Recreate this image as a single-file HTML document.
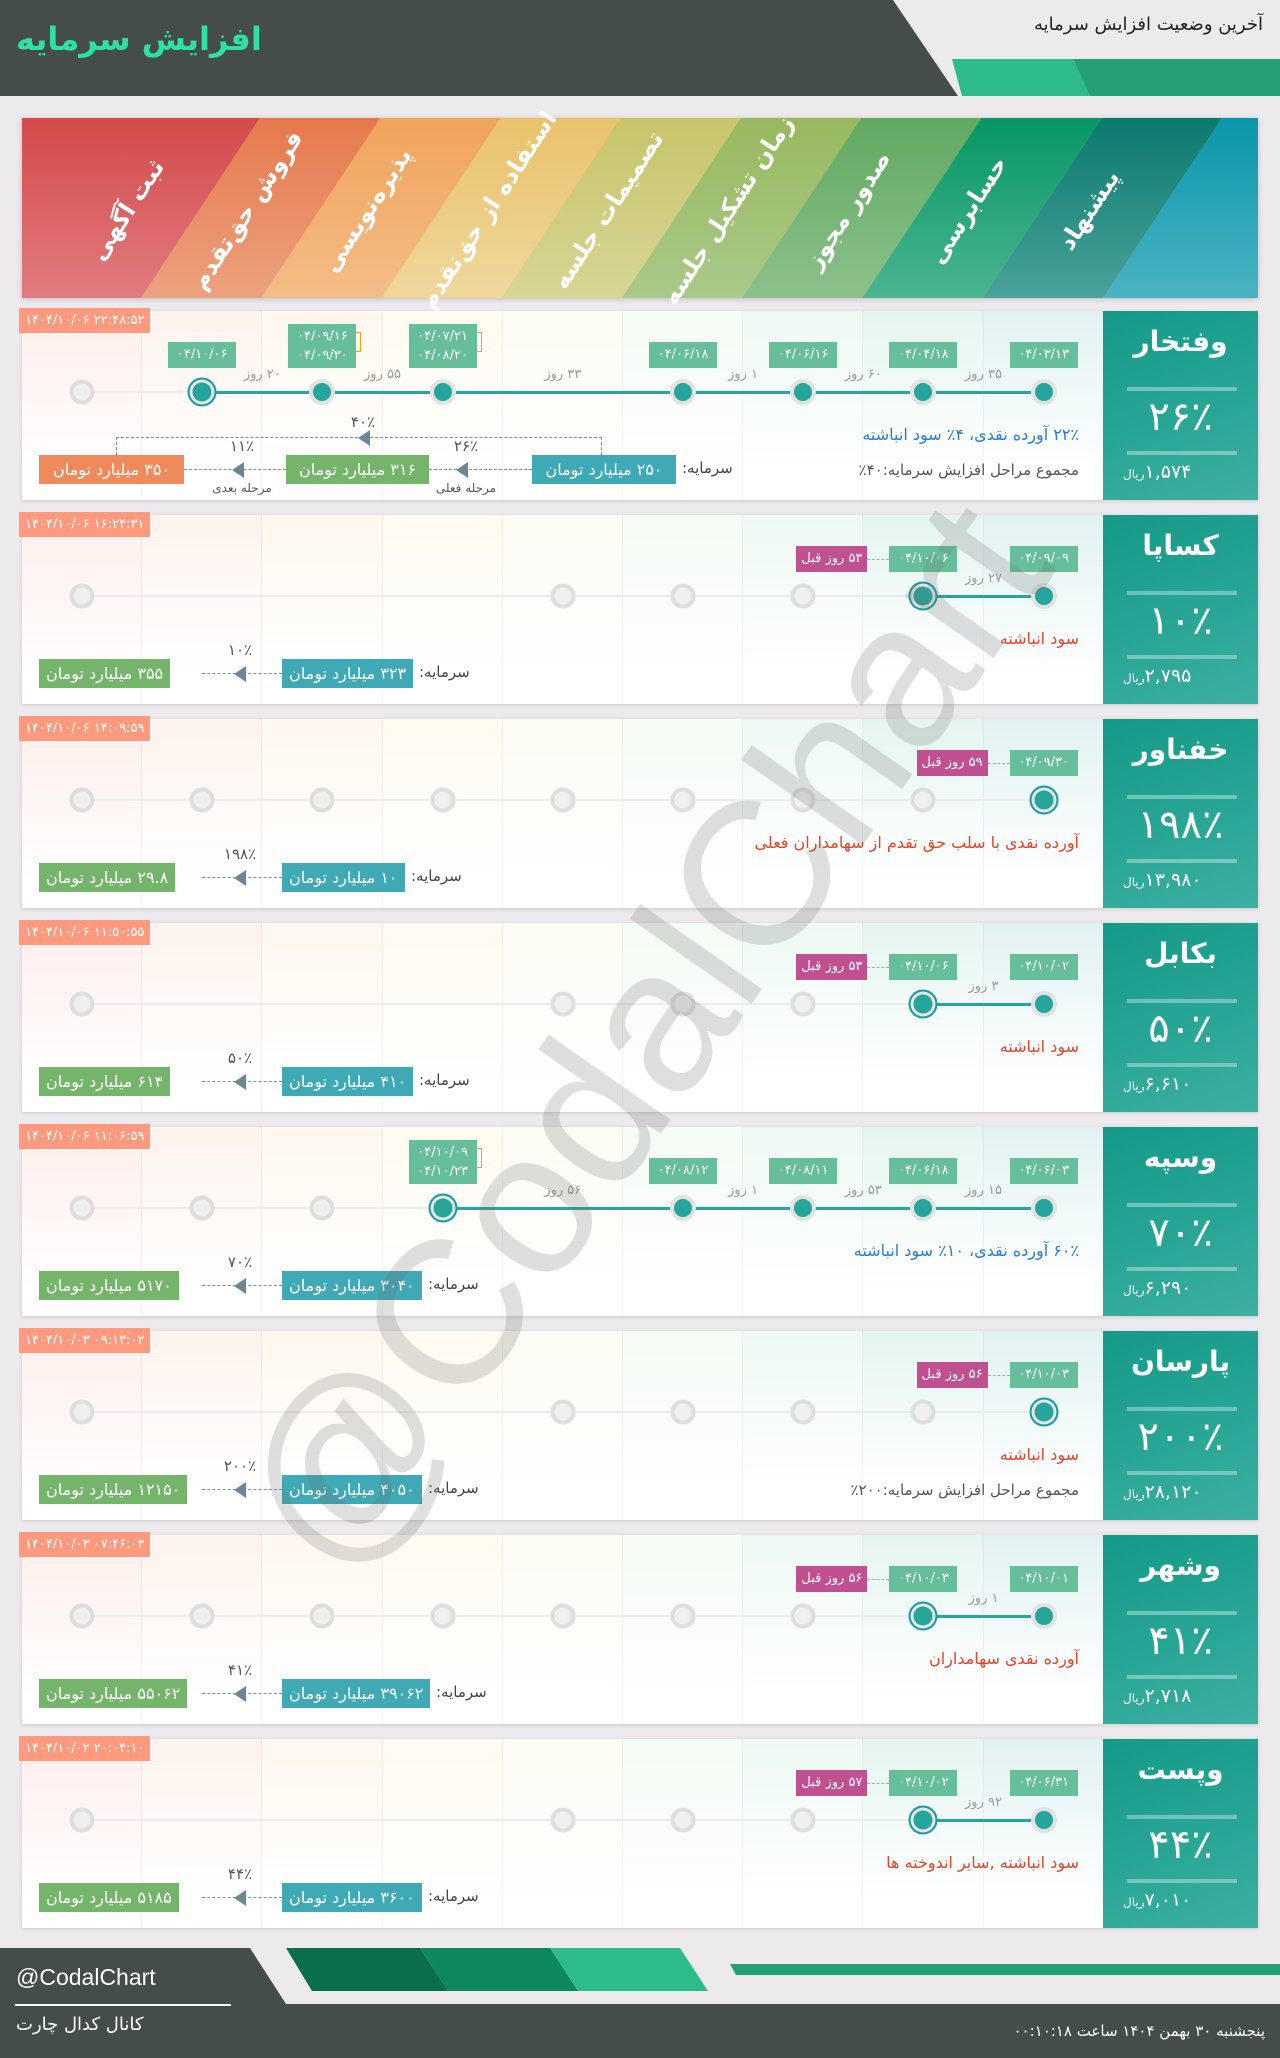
<!DOCTYPE html>
<html lang="fa">
<head>
<meta charset="utf-8">
<style>
*{margin:0;padding:0;box-sizing:border-box}
body{width:1280px;height:2058px;background:#edeaee;position:relative;overflow:hidden;font-family:"DejaVu Sans","Liberation Sans",sans-serif}
.abs{position:absolute}
.fa{direction:rtl;unicode-bidi:plaintext;white-space:nowrap}
.row{position:absolute;left:22px;width:1236px;height:189px;box-shadow:0 1px 4px rgba(0,0,0,.15);overflow:visible}
.main{position:absolute;left:0;top:0;width:1081px;height:189px;background:#fff;overflow:hidden}
.panel{position:absolute;left:1081px;top:0;width:155px;height:189px;background:linear-gradient(160deg,#159a88 0%,#2aa796 60%,#3cae9f 100%);color:#fff;text-align:center}
.sep{position:absolute;left:24px;width:110px;height:4px;background:rgba(255,255,255,.35)}
.ts{position:absolute;left:-3px;top:-3px;height:25px;background:#ff9a7e;color:#fff;font-size:13px;line-height:25px;padding:0 6px}
.box{position:absolute;height:29px;line-height:29px;color:#fff;font-size:16px;padding:0 7px;white-space:nowrap;direction:rtl;text-align:center}
.dt{position:absolute;background:#66bf9a;color:#fff;font-size:13px;text-align:center;width:68px;transform:translateX(-50%)}
.mg{position:absolute;background:#c0508f;color:#fff;font-size:13px;height:26px;line-height:26px;padding:0 5px;white-space:nowrap;direction:rtl}
.day{position:absolute;font-size:13px;color:#9a9a9a;transform:translateX(-50%);white-space:nowrap;direction:rtl}
.node{position:absolute;border-radius:50%;transform:translate(-50%,-50%)}
</style>
</head>
<body>
<svg class="abs" style="left:0;top:0" width="1280" height="98">
  <polygon points="0,0 893,0 958,96 0,96" fill="#454d4a"/>
  <polygon points="952,59 1073,59 1090,96 962,96" fill="#2dbb8a"/>
  <polygon points="1073,59 1280,59 1280,96 1090,96" fill="#23a075"/>
</svg>
<div class="abs fa" style="left:16px;top:20px;font-size:32px;font-weight:bold;color:#2ee0a3">افزایش سرمایه</div>
<div class="abs fa" style="right:17px;top:14px;font-size:18px;color:#222">آخرین وضعیت افزایش سرمایه</div>

<svg id="banner" class="abs" style="left:0;top:0;filter:drop-shadow(0 1px 3px rgba(0,0,0,.2))" width="1280" height="310"></svg>
<div id="bannerLabels"></div>

<div id="rows"></div>

<div class="abs" style="left:643px;top:1037px;transform:translate(-50%,-50%) rotate(-55deg);font-family:'Liberation Sans',sans-serif;font-size:205px;color:rgba(110,110,110,.22);white-space:nowrap;pointer-events:none">@CodalChart</div>

<svg class="abs" style="left:0;top:1940px" width="1280" height="118">
  <polygon points="0,8 250,8 286,64 1280,64 1280,118 0,118" fill="#454d4a"/>
  <polygon points="286,8 420,8 448,51 312,51" fill="#0a6e4e"/>
  <polygon points="420,8 550,8 578,51 448,51" fill="#0d885e"/>
  <polygon points="550,8 680,8 708,51 578,51" fill="#2dbb8a"/>
  <polygon points="730,24 1280,24 1280,35 736,35" fill="#24a077"/>
</svg>
<div class="abs" style="left:16px;top:1964px;font-family:'Liberation Sans',sans-serif;font-size:23px;color:#fff">@CodalChart</div>
<div class="abs" style="left:15px;top:2004px;width:216px;height:2px;background:#fff"></div>
<div class="abs fa" style="left:16px;top:2014px;font-size:18px;color:#fff">کانال کدال چارت</div>
<div class="abs fa" style="right:15px;top:2022px;font-size:15px;color:#fff">پنجشنبه ۳۰ بهمن ۱۴۰۴ ساعت ۰۰:۱۰:۱۸</div>

<script>
const stageLabels = ["ثبت آگهی","فروش حق‌تقدم","پذیره‌نویسی","استفاده از حق‌تقدم","تصمیمات جلسه","زمان تشکیل جلسه","صدور مجوز","حسابرسی","پیشنهاد"];
const bandTop = ["#d44a4a","#e6784c","#f0a35b","#e9c26c","#c8c46a","#98b95e","#61a861","#079765","#0b7a6d","#0a97aa"];
const bandBot = ["#e07b7f","#eca27f","#f4bd87","#efd79b","#d7d695","#aac98a","#8cc18b","#4ab590","#4aa29a","#4ab3c3"];

const names = ["وفتخار","کساپا","خفناور","بکابل","وسپه","پارسان","وشهر","وپست"];
const pcts = ["۲۶٪","۱۰٪","۱۹۸٪","۵۰٪","۷۰٪","۲۰۰٪","۴۱٪","۴۴٪"];
const prices = ["۱,۵۷۴","۲,۷۹۵","۱۳,۹۸۰","۶,۶۱۰","۶,۲۹۰","۲۸,۱۲۰","۲,۷۱۸","۷,۰۱۰"];
const stamps = ["۱۴۰۴/۱۰/۰۶ ۲۲:۴۸:۵۲","۱۴۰۴/۱۰/۰۶ ۱۶:۲۴:۳۱","۱۴۰۴/۱۰/۰۶ ۱۴:۰۹:۵۹","۱۴۰۴/۱۰/۰۶ ۱۱:۵۰:۵۵","۱۴۰۴/۱۰/۰۶ ۱۱:۰۶:۵۹","۱۴۰۴/۱۰/۰۳ ۰۹:۱۳:۰۲","۱۴۰۴/۱۰/۰۳ ۰۷:۴۶:۰۳","۱۴۰۴/۱۰/۰۲ ۲۰:۰۴:۱۰"];
const descs = ["۲۲٪ آورده نقدی، ۴٪ سود انباشته","سود انباشته","آورده نقدی با سلب حق تقدم از سهامداران فعلی","سود انباشته","۶۰٪ آورده نقدی، ۱۰٪ سود انباشته","سود انباشته","آورده نقدی سهامداران","سود انباشته ,سایر اندوخته ها"];
const descBlue = [true,false,false,false,true,false,false,false];
const sums = ["مجموع مراحل افزایش سرمایه:۴۰٪","","","","","مجموع مراحل افزایش سرمایه:۲۰۰٪","",""];
const capFrom = ["۲۵۰","۳۲۳","۱۰","۴۱۰","۳۰۴۰","۴۰۵۰","۳۹۰۶۲","۳۶۰۰"];
const capTo = ["۳۱۶","۳۵۵","۲۹.۸","۶۱۴","۵۱۷۰","۱۲۱۵۰","۵۵۰۶۲","۵۱۸۵"];
const capPct = ["۲۶٪","۱۰٪","۱۹۸٪","۵۰٪","۷۰٪","۲۰۰٪","۴۱٪","۴۴٪"];
const nodeStates = [
 [1,3,2,2,0,2,2,2,2],
 [1,0,0,0,1,1,1,3,2],
 [1,1,1,1,1,1,1,1,3],
 [1,0,0,0,1,1,1,3,2],
 [1,1,1,3,0,2,2,2,2],
 [1,0,0,0,1,1,1,1,3],
 [1,1,1,1,1,1,1,3,2],
 [1,0,0,0,1,1,1,3,2]
];
const nodeDates = [
 [null,"۰۴/۱۰/۰۶",["۰۴/۰۹/۱۶","۰۴/۰۹/۳۰"],["۰۴/۰۷/۲۱","۰۴/۰۸/۲۰"],null,"۰۴/۰۶/۱۸","۰۴/۰۶/۱۶","۰۴/۰۴/۱۸","۰۴/۰۳/۱۳"],
 [null,null,null,null,null,null,null,"۰۴/۱۰/۰۶","۰۴/۰۹/۰۹"],
 [null,null,null,null,null,null,null,null,"۰۴/۰۹/۳۰"],
 [null,null,null,null,null,null,null,"۰۴/۱۰/۰۶","۰۴/۱۰/۰۲"],
 [null,null,null,["۰۴/۱۰/۰۹","۰۴/۱۰/۲۳"],null,"۰۴/۰۸/۱۲","۰۴/۰۸/۱۱","۰۴/۰۶/۱۸","۰۴/۰۶/۰۳"],
 [null,null,null,null,null,null,null,null,"۰۴/۱۰/۰۳"],
 [null,null,null,null,null,null,null,"۰۴/۱۰/۰۳","۰۴/۱۰/۰۱"],
 [null,null,null,null,null,null,null,"۰۴/۱۰/۰۲","۰۴/۰۶/۳۱"]
];
const agoLabels = ["","۵۳ روز قبل","۵۹ روز قبل","۵۳ روز قبل","","۵۶ روز قبل","۵۶ روز قبل","۵۷ روز قبل"];
const dayGaps = [
 [[8,7,"۳۵ روز"],[7,6,"۶۰ روز"],[6,5,"۱ روز"],[5,3,"۳۳ روز"],[3,2,"۵۵ روز"],[2,1,"۲۰ روز"]],
 [[8,7,"۲۷ روز"]],
 [],
 [[8,7,"۳ روز"]],
 [[8,7,"۱۵ روز"],[7,6,"۵۳ روز"],[6,5,"۱ روز"],[5,3,"۵۶ روز"]],
 [],
 [[8,7,"۱ روز"]],
 [[8,7,"۹۲ روز"]]
];
const nextCap = "۳۵۰"; const nextPct = "۱۱٪"; const totalPct = "۴۰٪";

function stageX(i){return 60+120.2*i;}
function rowY(r){return 311+204*r;}
const NODE_Y=81;

const svg=document.getElementById('banner');
const NS="http://www.w3.org/2000/svg";
let defs=document.createElementNS(NS,'defs');svg.appendChild(defs);
const T0=260,B0=141,W=120.25,Y1=118,Y2=298;
for(let k=0;k<bandTop.length;k++){
  const g=document.createElementNS(NS,'linearGradient');
  g.setAttribute('id','bg'+k);g.setAttribute('x1','0');g.setAttribute('y1','0');g.setAttribute('x2','0');g.setAttribute('y2','1');
  g.innerHTML='<stop offset="0" stop-color="'+bandTop[k]+'"/><stop offset="1" stop-color="'+bandBot[k]+'"/>';
  defs.appendChild(g);
  const lt=k==0?22:T0+W*(k-1), lb=k==0?22:B0+W*(k-1);
  const rt=k==bandTop.length-1?1258:T0+W*k, rb=k==bandTop.length-1?1258:B0+W*k;
  const p=document.createElementNS(NS,'polygon');
  p.setAttribute('points',lt+','+Y1+' '+rt+','+Y1+' '+rb+','+Y2+' '+lb+','+Y2);
  p.setAttribute('fill','url(#bg'+k+')');
  
  
  svg.appendChild(p);
}
const bl=document.getElementById('bannerLabels');
stageLabels.forEach((t,i)=>{
  const d=document.createElement('div');
  d.className='abs fa';
  d.textContent=t;
  const cx=22+stageX(i)+45, cy=210;
  d.style.cssText='left:'+cx+'px;top:'+cy+'px;transform:translate(-50%,-50%) rotate(-57deg);font-size:24px;font-weight:bold;color:#fff;white-space:nowrap';
  
  
  bl.appendChild(d);
});

const rowsEl=document.getElementById('rows');
const tints=["rgba(250,205,195,.35)","rgba(250,215,195,.3)","rgba(252,230,200,.3)","rgba(250,240,205,.3)","rgba(240,245,215,.3)","rgba(220,240,220,.3)","rgba(205,238,220,.35)","rgba(195,232,220,.45)","rgba(195,228,228,.5)"];
function el(parent,cls,css,txt){const d=document.createElement('div');if(cls)d.className=cls;if(css)d.style.cssText=css;if(txt!=null)d.textContent=txt;parent.appendChild(d);return d;}

for(let r=0;r<names.length;r++){
  const row=el(rowsEl,'row','top:'+rowY(r)+'px');
  
  
  const main=el(row,'main','');
  
  
  for(let i=0;i<9;i++){
    const left=i==0?0:stageX(i)-60;
    const c=el(main,'abs','left:'+left+'px;top:0;width:'+(i==0?120:120.2)+'px;height:189px;background:linear-gradient(to bottom,'+tints[i]+',rgba(255,255,255,0) 85%);border-right:1px solid rgba(0,0,0,0.045)');
    
    
  }
  const gl=el(main,'abs','left:'+stageX(0)+'px;top:'+(NODE_Y-1)+'px;width:'+(stageX(8)-stageX(0))+'px;height:2px;background:#ececec');
  
  
  const st=nodeStates[r];
  let act=[];st.forEach((s,i)=>{if(s>=2)act.push(i)});
  if(act.length>1){
    const a=Math.min(...act),b=Math.max(...act);
    const al=el(main,'abs','left:'+stageX(a)+'px;top:'+(NODE_Y-1.5)+'px;width:'+(stageX(b)-stageX(a))+'px;height:3px;background:#26a69a');
    
    
  }
  st.forEach((s,i)=>{
    if(!s)return;
    const x=stageX(i);
    let n;
    if(s==1){n=el(main,'node','left:'+x+'px;top:'+NODE_Y+'px;width:25px;height:25px;background:#efefef;border:4px solid #dedede');}
    else if(s==2){n=el(main,'node','left:'+x+'px;top:'+NODE_Y+'px;width:26px;height:26px;background:#26a69a;border:4px solid #e2e2e2');}
    else {n=el(main,'node','left:'+x+'px;top:'+NODE_Y+'px;width:29px;height:29px;background:#26a69a;border:2px solid #1f9aa3;box-shadow:inset 0 0 0 3px #e6e6e6');}
    
    
  });
  nodeDates[r].forEach((d,i)=>{
    if(!d)return;
    const x=stageX(i);let b;
    if(Array.isArray(d)){
      b=el(main,'dt','left:'+x+'px;top:13px;height:44px;line-height:19px;padding-top:3px');
      b.innerHTML=d[0]+'<br>'+d[1];
      const br=el(main,'abs','left:'+(x+34)+'px;top:21px;width:5px;height:20px;border:1.5px solid #f0a500;border-left:none');
      
      
    } else {
      b=el(main,'dt','left:'+x+'px;top:31px;height:26px;line-height:26px',d);
    }
    
    
  });
  if(agoLabels[r]){
    let cur=st.indexOf(3);
    const x=stageX(cur)-34;
    const dash=el(main,'abs','left:'+(x-22)+'px;top:44px;width:22px;border-top:1.5px dashed #aaa');
    
    
    const m=el(main,'mg','right:'+(1081-x+22)+'px;top:31px',agoLabels[r]);
    
    
  }
  dayGaps[r].forEach(g=>{
    const x=(stageX(g[0])+stageX(g[1]))/2;
    const d=el(main,'day','left:'+x+'px;top:'+(NODE_Y-25)+'px',g[2]);
    
    
  });
  const de=el(main,'abs fa','right:24px;top:114px;font-size:16px;color:'+(descBlue[r]?'#2a7ad8':'#e0452a'),descs[r]);
  
  
  if(sums[r]){
    const su=el(main,'abs fa','right:24px;top:150px;font-size:15px;color:#555',sums[r]);
    
    
  }
  const BY=144;
  if(r==0){
    const o=el(main,'box','left:17px;top:'+BY+'px;width:145px;background:#ef8a5c',nextCap+' میلیارد تومان');
    
    
    const g=el(main,'box','left:264px;top:'+BY+'px;width:143px;background:#74b56b',capTo[r]+' میلیارد تومان');
    
    
    const t=el(main,'box','left:510px;top:'+BY+'px;width:144px;background:#3fa9b5',capFrom[r]+' میلیارد تومان');
    
    
    const lb=el(main,'abs fa','left:660px;top:'+(BY+4)+'px;font-size:15px;color:#444','سرمایه:');
    
    
    [[407,510,440,capPct[r],'مرحله فعلی'],[162,264,216,nextPct,'مرحله بعدی']].forEach(a=>{
      const ln=el(main,'abs','left:'+a[0]+'px;top:'+(BY+14)+'px;width:'+(a[1]-a[0])+'px;border-top:1.5px dashed #7a8f9b');
      
      
      const ar=el(main,'abs','left:'+(a[2]-6)+'px;top:'+(BY+7)+'px;width:0;height:0;border-top:8px solid transparent;border-bottom:8px solid transparent;border-right:12px solid #6b8796');
      
      
      const p=el(main,'abs fa','left:'+(a[2]+4)+'px;top:'+(BY-18)+'px;transform:translateX(-50%);font-size:15px;color:#555',a[3]);
      
      
      const s=el(main,'abs fa','left:'+(a[2]+4)+'px;top:'+(BY+26)+'px;transform:translateX(-50%);font-size:12px;color:#555',a[4]);
      
      
    });
    const bk=el(main,'abs','left:94px;top:126px;width:486px;height:18px;border:1.5px dashed #7a8f9b;border-bottom:none');
    
    
    const ba=el(main,'abs','left:336px;top:119px;width:0;height:0;border-top:8px solid transparent;border-bottom:8px solid transparent;border-right:12px solid #6b8796');
    
    
    const bp=el(main,'abs fa','left:341px;top:102px;transform:translateX(-50%);font-size:15px;color:#555',totalPct);
    
    
  } else {
    const g=el(main,'box','left:17px;top:'+BY+'px;background:#74b56b',capTo[r]+' میلیارد تومان');
    
    
    const t=el(main,'box','left:260px;top:'+BY+'px;background:#3fa9b5',capFrom[r]+' میلیارد تومان');
    
    
    const ln=el(main,'abs','left:180px;top:'+(BY+14)+'px;width:80px;border-top:1.5px dashed #7a8f9b');
    
    
    const ar=el(main,'abs','left:212px;top:'+(BY+7)+'px;width:0;height:0;border-top:8px solid transparent;border-bottom:8px solid transparent;border-right:12px solid #6b8796');
    
    
    const p=el(main,'abs fa','left:218px;top:'+(BY-18)+'px;transform:translateX(-50%);font-size:15px;color:#555',capPct[r]);
    
    
    requestAnimationFrame(()=>{
      const lb=el(main,'abs fa','left:'+(260+t.offsetWidth+6)+'px;top:'+(BY+4)+'px;font-size:15px;color:#444','سرمایه:');
      
      
    });
  }
  const ts=el(row,'ts','',stamps[r]);
  
  
  const pn=el(row,'panel','');
  
  
  const nm=el(pn,'abs fa','left:0;width:155px;top:14px;font-size:28px;font-weight:bold;text-align:center',names[r]);
  
  
  el(pn,'sep','top:76px');
  el(pn,'sep','top:140px');
  const pc=el(pn,'abs fa','left:0;width:155px;top:83px;font-size:40px;text-align:center',pcts[r]);
  
  
  const pr=el(pn,'abs fa','left:20px;top:150px;font-size:19px;text-align:left');
  pr.innerHTML=prices[r]+'<span style="font-size:12px">ریال</span>';
  
  
}
</script>
</body>
</html>
